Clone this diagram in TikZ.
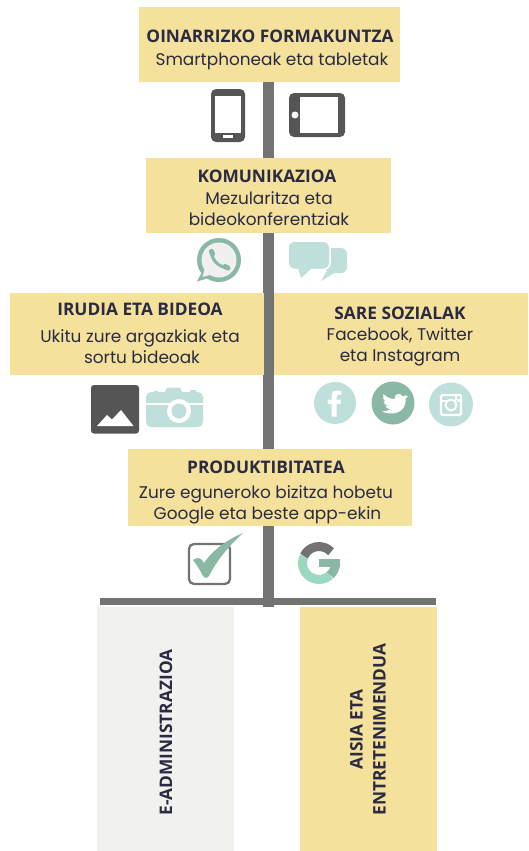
\documentclass[tikz,border=0pt]{standalone}
\usepackage{fontspec}
\setmainfont{Poppins}
\newfontfamily\headfont{Open Sans}
\usetikzlibrary{backgrounds}
\definecolor{boxyellow}{HTML}{F4E19B}
\definecolor{boxgray}{HTML}{F1F2EE}
\definecolor{trunkgray}{HTML}{737373}
\definecolor{icondark}{HTML}{555555}
\definecolor{iconmint}{HTML}{BFDFDB}
\definecolor{icongreen}{HTML}{8BB8A5}
\definecolor{iconlight}{HTML}{9CD8C0}
\definecolor{textnavy}{HTML}{2A2A42}
\tikzset{
  yellowbox/.style={fill=boxyellow,inner sep=0pt},
  boxtext/.style={text=textnavy,inner sep=0pt,align=center,font=\fontsize{16.9}{21.5}\selectfont},
  sidebox/.style={yellowbox,minimum width=254pt,minimum height=82pt},
  columnbox/.style={inner sep=0pt,minimum width=137pt,minimum height=244pt},
  columntext/.style={rotate=90,text=textnavy,align=center,font=\headfont\bfseries\fontsize{17.3}{23}\selectfont},
  trunkline/.style={draw=trunkgray,line width=11pt},
  barline/.style={draw=trunkgray,line width=7pt}
}
\newcommand{\boxhead}[1]{{\headfont\bfseries\fontsize{17.3}{21.5}\selectfont #1}}
\begin{document}
\begin{tikzpicture}[x=1pt,y=-1pt]
\useasboundingbox (0,0) rectangle (528,851);

% boxes
\node[yellowbox,minimum width=261pt,minimum height=74pt] (basics) at (269.5,44.5) {};
\node[yellowbox,minimum width=245pt,minimum height=75pt] (komunikazioa) at (268.5,195.5) {};
\node[sidebox] (irudia) at (137,334) {};
\node[sidebox] (sare) at (401,334) {};
\node[yellowbox,minimum width=284pt,minimum height=77pt] (produktibitatea) at (270,487.5) {};
\node[columnbox,fill=boxgray] (administrazioa) at (165.5,729) {};
\node[columnbox,fill=boxyellow] (aisia) at (368.5,729) {};

% texts
\node[boxtext] (basicstext) at (270,50)
  {\boxhead{OINARRIZKO FORMAKUNTZA}\\[1.5pt] \hspace*{4pt}Smartphoneak eta tabletak};
\node[boxtext] (komunikazioatext) at (267,198)
  {\boxhead{KOMUNIKAZIOA}\\[.5pt] \hspace*{4pt}Mezularitza eta\\ \hspace*{4pt}bideokonferentziak};
\node[boxtext] (irudiatext) at (140,333.5)
  {\boxhead{IRUDIA ETA BIDEOA}\\[5.5pt] Ukitu zure argazkiak eta\\ \hspace*{4pt}sortu bideoak};
\node[boxtext] (saretext) at (400,336.5)
  {\boxhead{SARE SOZIALAK}\\[-.5pt] Facebook, Twitter\\ eta Instagram};
\node[boxtext] (produktibitateatext) at (266,492.5)
  {\boxhead{PRODUKTIBITATEA}\\[3.5pt] Zure eguneroko bizitza hobetu\\ \hspace*{3pt}Google eta beste app-ekin};
\node[columntext] (administrazioatext) at (166,732.5) {E-ADMINISTRAZIOA};
\node[columntext] (aisiatext) at (368,729.5) {AISIA ETA\\ ENTRETENIMENDUA};

% trunk and bar
\coordinate (trunkend) at (268.5,607);
\coordinate (barleft) at (100,601.5);
\coordinate (barright) at (436,601.5);
\begin{pgfonlayer}{background}
\draw[trunkline] (basics.south -| trunkend) -- (trunkend);
\draw[barline] (barleft) -- (barright);
\end{pgfonlayer}

% phone
\fill[icondark,rounded corners=5pt] (211,89) rectangle (245,142);
\fill[white] (215,96) rectangle (241,133);
\fill[white] (223,135) rectangle (233,137.5);

% tablet
\fill[icondark,rounded corners=5pt] (289,93) rectangle (345,137);
\fill[white] (300,97) rectangle (338,133);
\fill[white] (295,115) circle (3.5);

% whatsapp
\fill[icongreen] (219,260) circle (22);
\fill[icongreen] (203,270) -- (197,281.5) -- (212,277) -- cycle;
\fill[black!6] (219,260) circle (17.5);
\fill[black!6] (205,268) -- (202.5,277) -- (213,274) -- cycle;
\draw[icongreen,line width=3pt,line cap=round] (211.5,252) .. controls (212,260) and (218,267) .. (228,268);
\draw[icongreen,line width=5pt,line cap=round] (211.5,251.5) -- (212.5,254);
\draw[icongreen,line width=5pt,line cap=round] (225,266.5) -- (228,268);

% chat bubbles
\fill[iconmint,rounded corners=6pt] (325,248) rectangle (347,273);
\fill[iconmint] (326,272) -- (321,281) -- (336,272) -- cycle;
\draw[white,line width=1.5pt,rounded corners=7pt,fill=iconmint] (288,241) rectangle (330,269.5);
\fill[iconmint] (298,268) -- (301,278) -- (312,268) -- cycle;

% picture
\fill[icondark,rounded corners=3pt] (91,385) rectangle (139,433.5);
\fill[white] (97,426) -- (107,415) -- (112,419.5) -- (121,410) -- (133.5,426) -- cycle;

% camera
\fill[iconmint] (165,392) -- (167,387.5) -- (180,387.5) -- (182,392) -- cycle;
\fill[iconmint] (154,391) rectangle (158,392.5);
\fill[iconmint] (190,389.5) rectangle (196,392.5);
\fill[iconmint,rounded corners=5pt] (146,392) rectangle (203,427);
\fill[white] (146,403) rectangle (203,404.5);
\fill[white] (179,411) circle (12);
\fill[iconmint] (179,411) circle (7.5);

% facebook
\fill[iconmint] (335,403) circle (21);
\fill[white] (331.5,416.5) -- (331.5,404) -- (327.5,404) -- (327.5,399.5) -- (331.5,399.5) -- (331.5,396)
  .. controls (331.5,391.5) and (334.5,390) .. (341,390.5) -- (341,395) .. controls (337.5,394.5) and (336.5,395) .. (336.5,397.5)
  -- (336.5,399.5) -- (341,399.5) -- (340.5,404) -- (336.5,404) -- (336.5,416.5) -- cycle;

% twitter
\fill[icongreen] (393,403) circle (21.5);
\fill[white] (406.5,395) -- (403,396.5) .. controls (401,392.5) and (394,393) .. (394.5,399)
  .. controls (390,399) and (386,396.5) .. (383.5,394) .. controls (382.5,397) and (383,400) .. (385.5,401.5)
  -- (383.5,401.2) .. controls (384,404) and (385.5,405.5) .. (388,406) -- (385.5,406.3)
  .. controls (386.5,408) and (388,409) .. (390.5,409.2) .. controls (388,411) and (385,411.5) .. (382,411.3)
  .. controls (390,416) and (407,414) .. (405.5,398.5) .. controls (407,398) and (407.5,397) .. (408,396)
  -- (405.5,396.5) -- cycle;

% instagram
\fill[iconmint] (451,404.5) circle (22);
\draw[white,line width=2.2pt,rounded corners=1.5pt] (441,395) rectangle (461,415);
\draw[white,line width=2pt] (451,405) circle (5.5);
\draw[white,line width=1.5pt] (441,401) -- (445.5,401) (456.5,401) -- (461,401);
\fill[white] (455,394) rectangle (461,400);
\fill[iconmint] (456.5,395.5) rectangle (459.5,398.5);

% check box
\draw[trunkgray,line width=2.3pt,rounded corners=5pt] (189,544) rectangle (230,584);
\fill[icongreen] (193,560) .. controls (197,557) and (201,557) .. (204,563) .. controls (212,551) and (226,540) .. (243,533)
  .. controls (229,546) and (217,560) .. (209,576) .. controls (207,578.5) and (204,578.5) .. (203,576) .. controls (200,570) and (197,565) .. (193,560) -- cycle;

% google
\begin{scope}[shift={(319,563)},y=1pt,line width=9pt]
\draw[iconlight] (155:16.5) arc[start angle=155,end angle=313,radius=16.5pt];
\draw[trunkgray] (43:16.5) arc[start angle=43,end angle=155,radius=16.5pt];
\draw[icongreen] (313:16.5) arc[start angle=313,end angle=355,radius=16.5pt];
\fill[icongreen] (0,4) rectangle (21,-4);
\end{scope}
\end{tikzpicture}
\end{document}
